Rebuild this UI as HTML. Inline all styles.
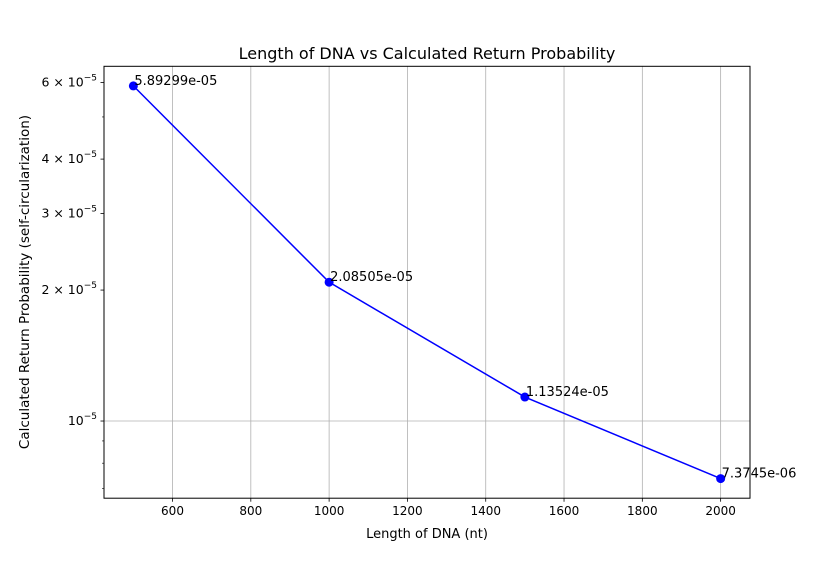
<!DOCTYPE html>
<html><head><meta charset="utf-8"><style>
body{margin:0;background:#fff;}
svg text{font-family:"DejaVu Sans","Liberation Sans",sans-serif;}
</style></head><body>
<svg id="chart" width="833" height="559" xmlns="http://www.w3.org/2000/svg">
<rect width="833" height="559" fill="#fff"/>
<text x="427" y="59" font-size="16" text-anchor="middle">Length of DNA vs Calculated Return Probability</text>
<text x="427" y="538" font-size="13" text-anchor="middle">Length of DNA (nt)</text>
<text transform="translate(29,282) rotate(-90)" font-size="13.5" text-anchor="middle">Calculated Return Probability (self-circularization)</text>
<g id="grid"></g><g id="axes"></g><g id="series"></g>
<rect x="104" y="66.3" width="646" height="431.9" fill="none" stroke="#000" stroke-width="1"/>
</svg>
<script>
const lengths=[500,1000,1500,2000];
const probs=[5.89299e-5,2.08505e-5,1.13524e-5,7.3745e-6];
const probLabels=["5.89299e-05","2.08505e-05","1.13524e-05","7.3745e-06"];
const xTicks=[600,800,1000,1200,1400,1600,1800,2000];
const yMajor=[{v:6e-5,m:"6",e:"−5"},{v:4e-5,m:"4",e:"−5"},{v:3e-5,m:"3",e:"−5"},{v:2e-5,m:"2",e:"−5"},{v:1e-5,m:"",e:"−5"}];
const yMinor=[7e-6,8e-6,9e-6,5e-5];
const L=104,R=750,T=66.3,B=498.2;
const x0=425,x1=2075,ly0=-5.1774,ly1=-4.1846;
const sx=v=>L+(v-x0)/(x1-x0)*(R-L);
const sy=v=>B-(Math.log10(v)-ly0)/(ly1-ly0)*(B-T);
const NS="http://www.w3.org/2000/svg";
function mk(t,a,p,txt){const e=document.createElementNS(NS,t);for(const k in a)e.setAttribute(k,a[k]);if(txt!==undefined)e.textContent=txt;p.appendChild(e);return e;}
const grid=document.getElementById('grid'),axes=document.getElementById('axes'),ser=document.getElementById('series');
xTicks.forEach(t=>{const x=sx(t);
 const g=mk('line',{x1:x,x2:x,y1:T,y2:B,stroke:'#b0b0b0','stroke-width':0.8},grid);
 
 mk('line',{x1:x,x2:x,y1:B,y2:B+3.5,stroke:'#000','stroke-width':0.8},axes);
 const tx=mk('text',{x:x,y:B+17,'font-size':12,'text-anchor':'middle'},axes,String(t));
 
});
yMajor.forEach(t=>{const y=sy(t.v);
 if(t.v===1e-5){const g=mk('line',{x1:L,x2:R,y1:y,y2:y,stroke:'#b0b0b0','stroke-width':0.8},grid);
  }
 mk('line',{x1:L-3.5,x2:L,y1:y,y2:y,stroke:'#000','stroke-width':0.8},axes);
 const tx=mk('text',{x:L-7,y:y+4,'font-size':12.5,'text-anchor':'end'},axes);
 
 tx.textContent=(t.m?t.m+" × 10":"10");
 mk('tspan',{'font-size':9,dy:-6},tx,t.e);
});
yMinor.forEach(v=>{const y=sy(v);mk('line',{x1:L-2,x2:L,y1:y,y2:y,stroke:'#000','stroke-width':0.6},axes);});
const pts=lengths.map((v,i)=>sx(v)+','+sy(probs[i])).join(' ');
const pl=mk('polyline',{points:pts,fill:'none',stroke:'#0000ff','stroke-width':1.5},ser);

lengths.forEach((v,i)=>{
 const c=mk('circle',{cx:sx(v),cy:sy(probs[i]),r:4.5,fill:'#0000ff'},ser);
 
 const t=mk('text',{x:sx(v)+1,y:sy(probs[i])-1,'font-size':13},ser,probLabels[i]);
 
});
</script>
</body></html>
